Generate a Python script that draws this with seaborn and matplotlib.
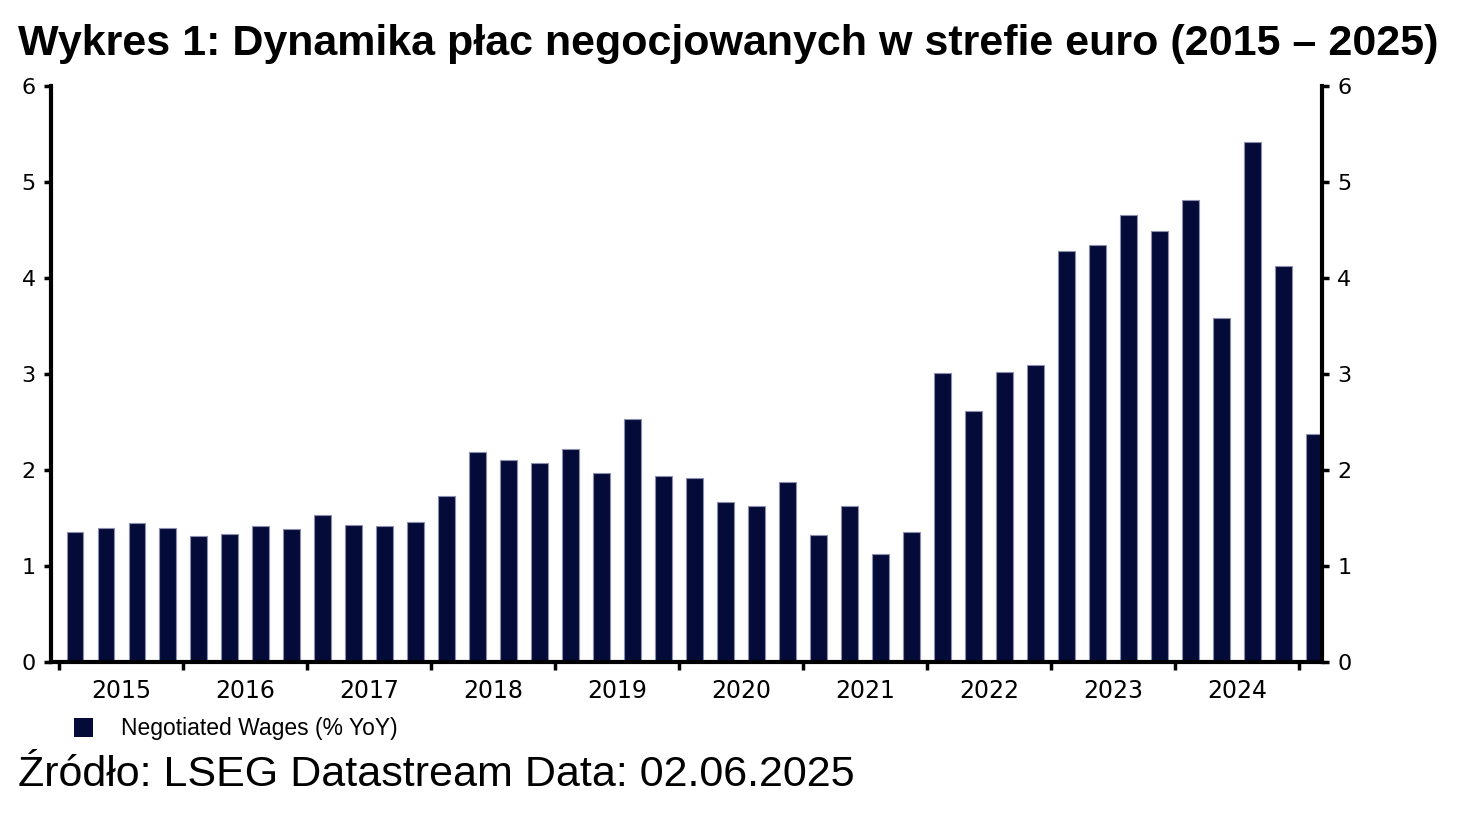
import numpy as np
import pandas as pd
import matplotlib
matplotlib.use('Agg')
import matplotlib.pyplot as plt
import seaborn as sns
from matplotlib.patches import Patch

# quarterly data, 2015Q1 - 2025Q1
years = list(range(2015, 2026))
quarters = [f'{y}Q{q}' for y in range(2015, 2025) for q in range(1, 5)] + ['2025Q1']
wages = [1.35, 1.40, 1.45, 1.40,
         1.31, 1.33, 1.42, 1.39,
         1.53, 1.43, 1.42, 1.46,
         1.73, 2.19, 2.10, 2.07,
         2.22, 1.97, 2.53, 1.94,
         1.92, 1.67, 1.62, 1.87,
         1.32, 1.62, 1.12, 1.35,
         3.01, 2.61, 3.02, 3.09,
         4.28, 4.34, 4.66, 4.49,
         4.81, 3.58, 5.42, 4.13,
         2.38]
series_label = 'Negotiated Wages (% YoY)'
title = 'Wykres 1: Dynamika płac negocjowanych w strefie euro (2015 – 2025)'
source = 'Źródło: LSEG Datastream Data: 02.06.2025'

df = pd.DataFrame({'quarter': quarters, 'value': wages})

sns.set_style('white')
plt.rcParams['font.family'] = ['DejaVu Sans']
plt.rcParams['text.color'] = 'black'
plt.rcParams['xtick.color'] = 'black'
plt.rcParams['ytick.color'] = 'black'

fig = plt.figure(figsize=(14.76, 8.16), dpi=100)
ax = fig.add_axes([0.0346, 0.1887, 0.861, 0.7059])

bar_color = '#050b38'
sns.barplot(data=df, x='quarter', y='value', order=quarters, color=bar_color,
            width=0.52, edgecolor='#8d8fb0', linewidth=0.8, saturation=1,
            ax=ax)

ax.set_ylim(0, 6)
ax.set_xlim(-0.758, 40.24)
ax.set_xlabel('')
ax.set_ylabel('')

# year boundaries as major ticks, year labels centred on each year
boundaries = [i * 4 - 0.5 for i in range(len(years))]
centres = [i * 4 + 1.5 for i in range(len(years) - 1)]
ax.set_xticks(boundaries)
ax.set_xticklabels([])
ax.set_xticks(centres, minor=True)
ax.set_xticklabels([str(y) for y in years[:-1]], minor=True, fontsize=17)
ax.tick_params(axis='x', which='major', direction='out', length=6, width=2.5,
               color='black', bottom=True)
ax.tick_params(axis='x', which='minor', length=0, pad=12)

ax.set_yticks(range(0, 7))
ax.tick_params(axis='y', direction='out', length=5, width=2.5, color='black',
               left=True, right=True, labelleft=True, labelright=True,
               labelsize=16, pad=6)

for side in ['left', 'right', 'bottom']:
    ax.spines[side].set_visible(True)
    ax.spines[side].set_linewidth(3)
    ax.spines[side].set_color('black')
ax.spines['top'].set_visible(False)

# legend
handle = Patch(facecolor=bar_color, edgecolor='none')
fig.legend([handle], [series_label], loc='center left',
           bbox_to_anchor=(0.036, 0.107), frameon=False,
           prop={'family': 'Liberation Sans', 'size': 16.5},
           handlelength=0.85, handleheight=0.9, handletextpad=1.2)

fig.text(0.012, 0.946, title, fontsize=31, fontweight='bold',
         family='Liberation Sans', va='center', ha='left')
fig.text(0.012, 0.05, source, fontsize=31, family='Liberation Sans',
         va='center', ha='left')

plt.savefig('out.png', dpi=100)
